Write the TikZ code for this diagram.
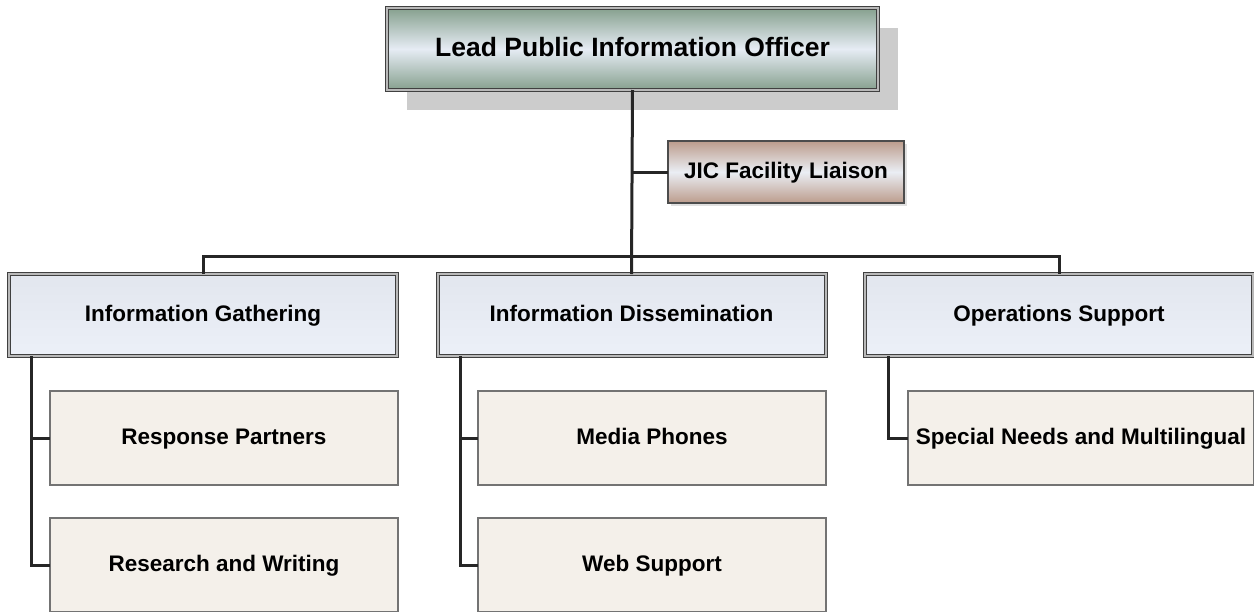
\documentclass[tikz,border=0pt]{standalone}
\usepackage{fontspec}
\setmainfont{Liberation Sans}
\definecolor{leadedge}{HTML}{86A08E}
\definecolor{leadmid}{HTML}{E6ECF4}
\definecolor{liaisonedge}{HTML}{BC9C8C}
\definecolor{liaisonmid}{HTML}{EAEEF4}
\definecolor{sectiontop}{HTML}{E2E6EE}
\definecolor{sectionbot}{HTML}{ECF0F8}
\definecolor{unitfill}{HTML}{F4F0EA}
\definecolor{shadowgray}{HTML}{CCCCCC}
\tikzset{
  boxtext/.style={font=\bfseries\fontsize{22.5}{25}\selectfont, align=center,
    inner sep=0pt, outer sep=0pt, text height=16.5pt, text depth=4.5pt},
  leadbox/.style={boxtext, font=\bfseries\fontsize{26.5}{29}\selectfont,
    text height=19pt, text depth=5pt,
    minimum width=491, minimum height=82,
    top color=leadedge, bottom color=leadedge, middle color=leadmid,
    draw=black!75, line width=1pt, double=gray!55, double distance=2pt},
  liaisonbox/.style={boxtext, minimum width=236, minimum height=62,
    top color=liaisonedge, bottom color=liaisonedge, middle color=liaisonmid,
    draw=black!70, line width=1.4pt},
  sectionbox/.style={boxtext, minimum width=388, minimum height=82,
    top color=sectiontop, bottom color=sectionbot,
    draw=black!75, line width=1pt, double=gray!55, double distance=2pt},
  unitbox/.style={boxtext, minimum width=348, minimum height=94,
    fill=unitfill, draw=gray!90!black, line width=1.6pt},
  link/.style={draw=black!85, line width=3pt}
}
\begin{document}
\begin{tikzpicture}[x=1pt,y=-1pt]
  \useasboundingbox (0,0) rectangle (1254,611);
  \fill[shadowgray] (407,28) rectangle (898,110);
  \fill[black!12] (671,144) rectangle (907,206);
  \node[leadbox] (lead) at (632.5,49) {Lead Public Information Officer};
  \node[liaisonbox] (jic) at (786,172) {JIC Facility Liaison};
  \node[sectionbox] (gath) at (203,315) {Information Gathering};
  \node[sectionbox] (diss) at (631.5,315) {Information Dissemination};
  \node[sectionbox] (ops) at (1059,315) {Operations Support};
  \node[unitbox] (resp) at (224,438) {Response Partners};
  \node[unitbox] (res) at (224,565) {Research and Writing};
  \node[unitbox] (media) at (652,438) {Media Phones};
  \node[unitbox] (web) at (652,565) {Web Support};
  \node[unitbox, minimum width=346] (spec) at (1081,438) {Special Needs and Multilingual};
  \coordinate (bus) at (632,256);
  \coordinate (gspine) at (31,356);
  \coordinate (dspine) at (460,356);
  \coordinate (ospine) at (888,356);
  \draw[link] (lead.south) -- (diss.north);
  \draw[link] (gath.north) |- (bus) -| (ops.north);
  \draw[link] (lead.south |- jic.west) -- (jic.west);
  \draw[link] (gspine) |- (res.west);
  \draw[link] (gspine |- resp.west) -- (resp.west);
  \draw[link] (dspine) |- (web.west);
  \draw[link] (dspine |- media.west) -- (media.west);
  \draw[link] (ospine) |- (spec.west);
\end{tikzpicture}
\end{document}
